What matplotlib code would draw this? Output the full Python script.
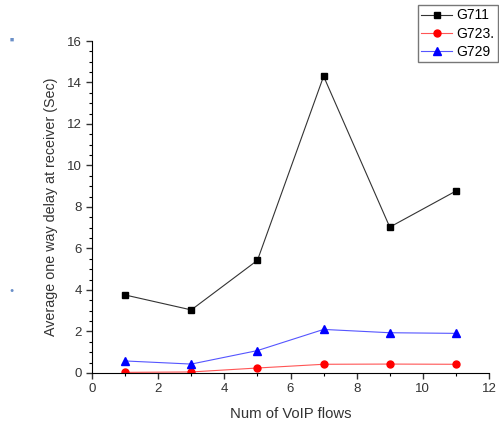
import matplotlib
matplotlib.use("Agg")
import matplotlib.pyplot as plt
from matplotlib.ticker import MultipleLocator

plt.rcParams['font.family'] = ['Liberation Sans', 'DejaVu Sans']

flows = [1, 3, 5, 7, 9, 11]
g711 = [3.76, 3.04, 5.43, 14.3, 7.03, 8.77]
g723 = [0.03, 0.05, 0.24, 0.42, 0.43, 0.42]
g729 = [0.58, 0.43, 1.08, 2.10, 1.94, 1.91]
series_labels = ["G711", "G723.", "G729"]

fig = plt.figure(figsize=(4.99, 4.24), dpi=100)
ax = fig.add_axes([0.1844, 0.1203, 0.7956, 0.783])

ax.plot(flows, g711, color='#333333', lw=0.8, marker='s', ms=5, mfc='black', mec='black', label=series_labels[0])
ax.plot(flows, g723, color='#ff5555', lw=0.8, marker='o', ms=5, mfc='red', mec='red', label=series_labels[1])
ax.plot(flows, g729, color='#5555ff', lw=0.8, marker='^', ms=6, mfc='blue', mec='blue', label=series_labels[2])

ax.set_xlim(0, 12)
ax.set_ylim(0, 16)
ax.xaxis.set_major_locator(MultipleLocator(2))
ax.xaxis.set_minor_locator(MultipleLocator(1))
ax.yaxis.set_major_locator(MultipleLocator(2))
ax.yaxis.set_minor_locator(MultipleLocator(0.5))
ax.spines['top'].set_visible(False)
ax.spines['right'].set_visible(False)
ax.tick_params(which='major', direction='out', length=4, width=1, labelsize=9.5, colors='#333333')
ax.tick_params(which='minor', direction='out', length=2, width=0.8)
ax.set_xlabel("Num of VoIP flows", fontsize=10.7, color='#333333', labelpad=8)
ax.set_ylabel("Average one way delay at receiver (Sec)", fontsize=10.3, color='#333333', labelpad=6)

leg = fig.legend(loc='upper left', bbox_to_anchor=(418/499, 1 - 5/424), fontsize=10,
                 frameon=True, fancybox=False, edgecolor='#555555', handlelength=2.2,
                 borderpad=0.25, labelspacing=0.3, handletextpad=0.3, borderaxespad=0)

fig.text(12/499, 1 - 40/424, "\u25A0", fontsize=5, color='#6a8fc8', ha='center', va='center')
fig.text(12/499, 1 - 290/424, "\u25CF", fontsize=5, color='#6a8fc8', ha='center', va='center')

fig.savefig("out.png", dpi=100)
